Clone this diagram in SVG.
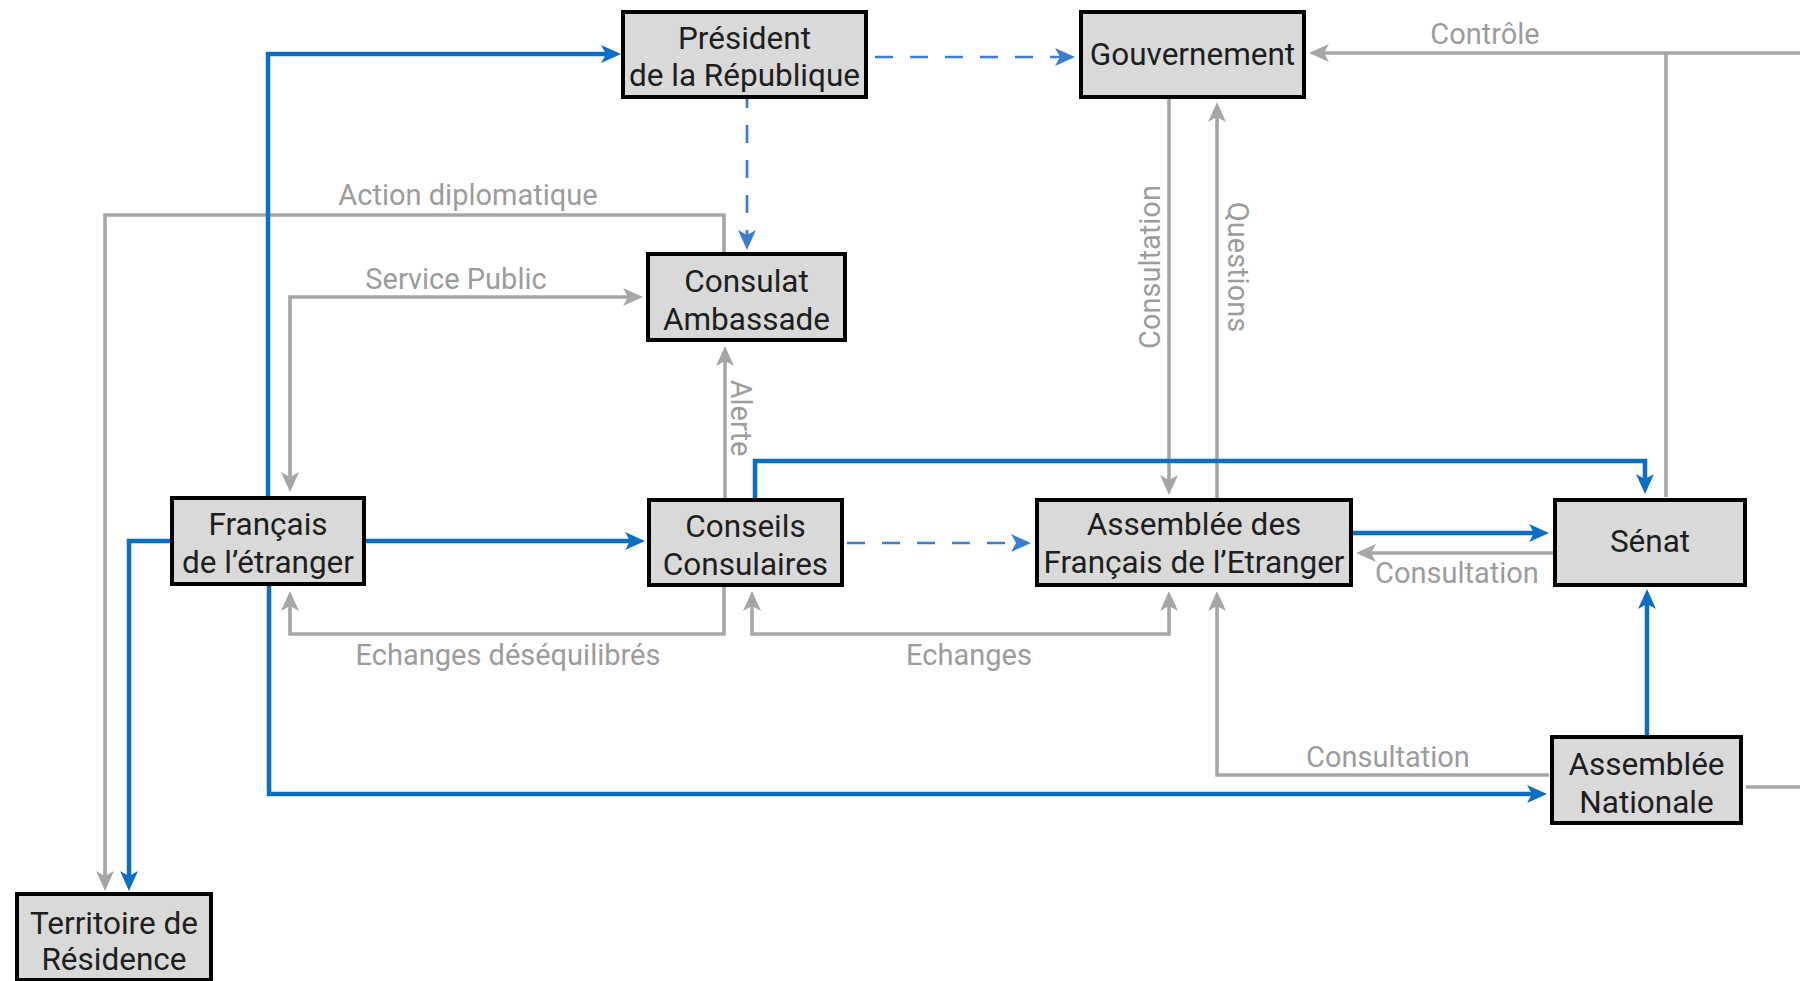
<svg xmlns="http://www.w3.org/2000/svg" width="1800" height="981" viewBox="0 0 1800 981">
<style>
.node rect{fill:#d9d9d9;stroke:#000;stroke-width:4}
.node text{font-family:Roboto,"Liberation Sans",sans-serif;font-size:31.5px;fill:#1e1e1e;text-anchor:middle}
.lbl{font-family:Roboto,"Liberation Sans",sans-serif;font-size:29px;fill:#9c9c9c;text-anchor:middle}
.blue{fill:none;stroke:#0b6fc6;stroke-width:4.5}
.dash{fill:none;stroke:#3b7dd0;stroke-width:2.7;stroke-dasharray:18 17}
.gray{fill:none;stroke:#a6a6a6;stroke-width:3.6}
</style>
<defs>
<marker id="ab" markerUnits="userSpaceOnUse" viewBox="0 0 20 18" markerWidth="20" markerHeight="18" refX="12" refY="9" orient="auto-start-reverse"><path d="M0,0 L20,9 L0,18 L5,9 Z" fill="#0b6fc6"/></marker>
<marker id="ad" markerUnits="userSpaceOnUse" viewBox="0 0 20 18" markerWidth="20" markerHeight="18" refX="12" refY="9" orient="auto-start-reverse"><path d="M0,0 L20,9 L0,18 L5,9 Z" fill="#3b7dd0"/></marker>
<marker id="ag" markerUnits="userSpaceOnUse" viewBox="0 0 20 18" markerWidth="20" markerHeight="18" refX="12" refY="9" orient="auto-start-reverse"><path d="M0,0 L20,9 L0,18 L5,9 Z" fill="#a6a6a6"/></marker>
</defs>
<rect width="1800" height="981" fill="#fff"/>
<g id="connectors">
<path class="gray" d="M1800,53 H1317" marker-end="url(#ag)"/>
<path class="gray" d="M1666,53 V497"/>
<path class="gray" d="M1746,787 H1800"/>
<path class="gray" d="M1169,99 V487" marker-end="url(#ag)"/>
<path class="gray" d="M1217,498 V110" marker-end="url(#ag)"/>
<path class="gray" d="M724,252 V215 H105 V883" marker-end="url(#ag)"/>
<path class="gray" d="M290,484 V297 H635" marker-start="url(#ag)" marker-end="url(#ag)"/>
<path class="gray" d="M725,498 V354" marker-end="url(#ag)"/>
<path class="gray" d="M724,587 V634 H290 V599" marker-end="url(#ag)"/>
<path class="gray" d="M752,599 V634 H1169 V599" marker-start="url(#ag)" marker-end="url(#ag)"/>
<path class="gray" d="M1549,775 H1217 V599" marker-end="url(#ag)"/>
<path class="gray" d="M1553,553 H1364" marker-end="url(#ag)"/>
<path class="blue" d="M268,496 V54 H613" marker-end="url(#ab)"/>
<path class="blue" d="M366,541 H637" marker-end="url(#ab)"/>
<path class="blue" d="M170,541 H129 V883" marker-end="url(#ab)"/>
<path class="blue" d="M269,586 V794 H1539" marker-end="url(#ab)"/>
<path class="blue" d="M755,498 V461 H1645 V486" marker-end="url(#ab)"/>
<path class="blue" d="M1353,533 H1541" marker-end="url(#ab)"/>
<path class="blue" d="M1647,735 V597" marker-end="url(#ab)"/>
<path class="dash" d="M875,57 H1067" marker-end="url(#ad)"/>
<path class="dash" style="stroke-dashoffset:9" d="M747,99 V242" marker-end="url(#ad)"/>
<path class="dash" d="M847,543 H1023" marker-end="url(#ad)"/>
<text class="lbl" x="468" y="205">Action diplomatique</text>
<text class="lbl" x="456" y="289">Service Public</text>
<text class="lbl" transform="translate(731,418) rotate(90)">Alerte</text>
<text class="lbl" transform="translate(1160,267) rotate(-90)">Consultation</text>
<text class="lbl" transform="translate(1228,267) rotate(90)">Questions</text>
<text class="lbl" x="1485" y="44">Contrôle</text>
<text class="lbl" x="1457" y="583">Consultation</text>
<text class="lbl" x="508" y="665">Echanges déséquilibrés</text>
<text class="lbl" x="969" y="665">Echanges</text>
<text class="lbl" x="1388" y="767">Consultation</text>
</g>
<g id="president" class="node"><rect x="623" y="12" width="243" height="85"/><text x="744.5" y="49">Président</text><text x="744.5" y="86">de la République</text></g>
<g id="gouvernement" class="node"><rect x="1081" y="12" width="223" height="85"/><text x="1192.5" y="65">Gouvernement</text></g>
<g id="consulat" class="node"><rect x="648" y="254" width="197" height="86"/><text x="746.5" y="292">Consulat</text><text x="746.5" y="330">Ambassade</text></g>
<g id="francais" class="node"><rect x="172" y="498" width="192" height="86"/><text x="268" y="535">Français</text><text x="268" y="573">de l’étranger</text></g>
<g id="conseils" class="node"><rect x="649" y="500" width="193" height="85"/><text x="745.5" y="537">Conseils</text><text x="745.5" y="575">Consulaires</text></g>
<g id="afe" class="node"><rect x="1037" y="500" width="314" height="85"/><text x="1194" y="535">Assemblée des</text><text x="1194" y="573">Français de l’Etranger</text></g>
<g id="senat" class="node"><rect x="1555" y="500" width="190" height="85"/><text x="1650" y="552">Sénat</text></g>
<g id="an" class="node"><rect x="1552" y="737" width="189" height="86"/><text x="1646.5" y="775">Assemblée</text><text x="1646.5" y="813">Nationale</text></g>
<g id="territoire" class="node"><rect x="17" y="894" width="194" height="86"/><text x="114" y="934">Territoire de</text><text x="114" y="970">Résidence</text></g>
</svg>
